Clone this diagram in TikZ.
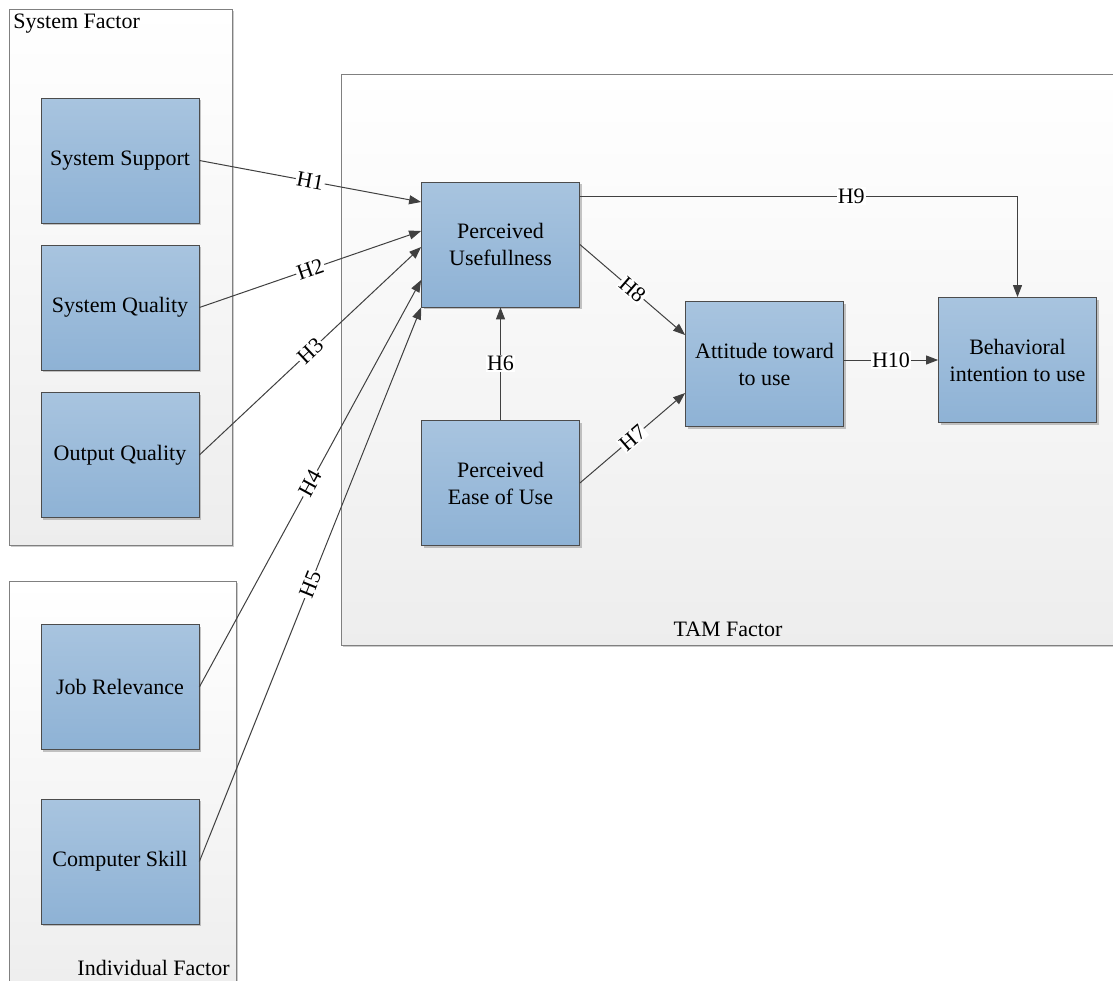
\documentclass[tikz,border=0pt]{standalone}
\usepackage{fontspec}
\setmainfont{Liberation Serif}
\usetikzlibrary{arrows.meta,shadows}

\definecolor{boxtop}{RGB}{168,196,223}
\definecolor{boxbottom}{RGB}{142,178,213}
\definecolor{linegray}{RGB}{64,64,64}

\begin{document}
\begin{tikzpicture}
[
    x=0.5pt, y=-0.5pt,
    font=\fontsize{11}{13.5}\selectfont,
    factorbox/.style={draw=black!50, top color=white, bottom color=black!7,
        drop shadow={shadow xshift=1pt, shadow yshift=-1pt, fill=black!40, opacity=0.5}},
    varbox/.style={draw=black!70, top color=boxtop, bottom color=boxbottom,
        minimum width=79pt, minimum height=62.5pt, align=center, inner sep=2pt,
        drop shadow={shadow xshift=1.2pt, shadow yshift=-1.2pt, fill=black!45, opacity=0.5}},
    hyparrow/.style={draw=linegray, line width=0.5pt, -{Triangle[length=6pt,width=4.5pt]}},
    hlabel/.style={fill=white, inner sep=0.6pt},
]
\useasboundingbox (0,0) rectangle (1113,980);
\clip (0,0) rectangle (1113,980);
\fill[white] (0,0) rectangle (1113,980);

\draw[factorbox] (9,9) rectangle (232,545);
\node[anchor=north west, inner sep=2pt] (sysf) at (9,10) {System Factor};
\draw[factorbox] (9,581) rectangle (236,1000);
\node[anchor=south east, inner sep=2pt] (indf) at (234,980) {Individual Factor};
\draw[factorbox] (341,74) rectangle (1116,645);
\node (tamf) at (728,629) {TAM Factor};

\node[varbox] (sup) at (120,160.5) {System Support};
\node[varbox] (squal) at (120,307.5) {System Quality};
\node[varbox] (oqual) at (120,455) {Output Quality};
\node[varbox] (jobrel) at (120,687) {Job Relevance};
\node[varbox] (cskill) at (120,861.5) {Computer Skill};

\node[varbox] (pu) at (500.5,244.5) {Perceived\\Usefullness};
\node[varbox] (peou) at (500.5,483) {Perceived\\Ease of Use};
\node[varbox] (att) at (764.5,364) {Attitude toward\\to use};
\node[varbox] (bi) at (1017.5,360) {Behavioral\\intention to use};

\draw[hyparrow] (sup.east) -- node[hlabel, sloped] {H1} ([yshift=21.25pt]pu.west);
\draw[hyparrow] (squal.east) -- node[hlabel, sloped] {H2} ([yshift=6.75pt]pu.west);
\draw[hyparrow] (oqual.east) -- node[hlabel, sloped] {H3} ([yshift=-1.25pt]pu.west);
\draw[hyparrow] (jobrel.east) -- node[hlabel, sloped] {H4} ([yshift=-17.75pt]pu.west);
\draw[hyparrow] (cskill.east) -- node[hlabel, sloped] {H5} (pu.south west);
\draw[hyparrow] (peou.north) -- node[hlabel] {H6} (pu.south);
\draw[hyparrow] (peou.east) -- node[hlabel, sloped] {H7} ([yshift=-14.5pt]att.west);
\draw[hyparrow] (pu.east) -- node[hlabel, sloped] {H8} ([yshift=14.5pt]att.west);
\draw[hyparrow] ([yshift=24.25pt]pu.east) -| node[hlabel, pos=0.31] {H9} (bi.north);
\draw[hyparrow] (att.east |- bi.west) -- node[hlabel] {H10} (bi.west);
\end{tikzpicture}
\end{document}
